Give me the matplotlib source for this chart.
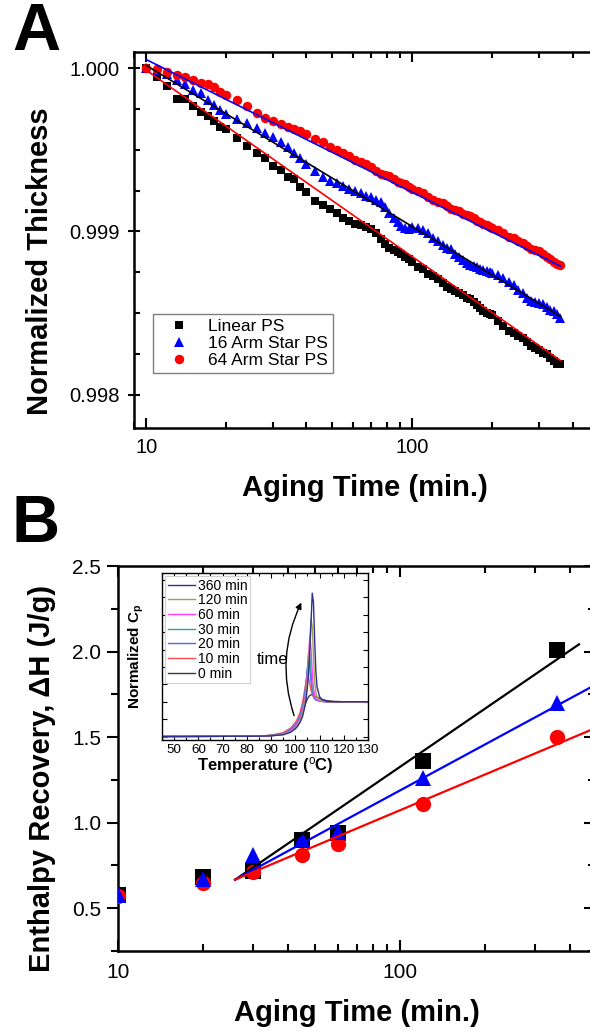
import numpy as np
import matplotlib
matplotlib.use("Agg")
import matplotlib.pyplot as plt
from matplotlib.ticker import LogLocator, NullFormatter, FuncFormatter, MultipleLocator, FixedLocator

plt.rcParams['font.family'] = ['Liberation Sans', 'DejaVu Sans']
plt.rcParams['mathtext.fontset'] = 'custom'
plt.rcParams['mathtext.rm'] = 'Liberation Sans'
plt.rcParams['mathtext.bf'] = 'Liberation Sans:bold'
plt.rcParams['mathtext.it'] = 'Liberation Sans:italic'

# ---------------- Panel A data ----------------
aging_time_a = [10, 11, 12, 13, 14, 15, 16, 17, 18, 19, 20, 22, 24, 26, 28, 30, 32, 34, 36, 38,
                40, 43, 46, 49, 52, 55, 58, 61, 64, 67, 70, 73, 76, 79, 82, 85, 88, 91, 94, 97,
                100, 105, 110, 115, 120, 125, 130, 135, 140, 145, 150, 155, 160, 165, 170, 175,
                180, 185, 190, 195, 200, 210, 220, 230, 240, 250, 260, 270, 280, 290, 300, 310,
                320, 330, 340, 350, 360]
thick_linear = [1.000000, 0.999945, 0.999892, 0.999812, 0.999810, 0.999766, 0.999729, 0.999709,
                0.999676, 0.999639, 0.999629, 0.999571, 0.999523, 0.999478, 0.999452, 0.999403,
                0.999376, 0.999336, 0.999322, 0.999275, 0.999240, 0.999189, 0.999161, 0.999139,
                0.999115, 0.999082, 0.999066, 0.999046, 0.999037, 0.999029, 0.999018, 0.998992,
                0.998957, 0.998923, 0.998899, 0.998887, 0.998874, 0.998863, 0.998842, 0.998831,
                0.998811, 0.998782, 0.998769, 0.998742, 0.998726, 0.998710, 0.998686, 0.998662,
                0.998649, 0.998637, 0.998625, 0.998614, 0.998593, 0.998588, 0.998568, 0.998549,
                0.998530, 0.998511, 0.998503, 0.998495, 0.998488, 0.998453, 0.998420, 0.998393,
                0.998377, 0.998362, 0.998347, 0.998324, 0.998301, 0.998288, 0.998277, 0.998255,
                0.998250, 0.998229, 0.998210, 0.998190, 0.998191]
thick_16arm = [1.000000, 0.999990, 0.999963, 0.999924, 0.999902, 0.999867, 0.999845, 0.999804,
               0.999774, 0.999746, 0.999719, 0.999688, 0.999661, 0.999632, 0.999605, 0.999581,
               0.999548, 0.999517, 0.999482, 0.999449, 0.999412, 0.999371, 0.999332, 0.999310,
               0.999295, 0.999281, 0.999263, 0.999247, 0.999233, 0.999219, 0.999208, 0.999195,
               0.999183, 0.999151, 0.999115, 0.999085, 0.999060, 0.999035, 0.999021, 0.999018,
               0.999025, 0.999019, 0.999009, 0.998990, 0.998962, 0.998944, 0.998918, 0.998897,
               0.998891, 0.998861, 0.998846, 0.998827, 0.998809, 0.998796, 0.998788, 0.998780,
               0.998773, 0.998767, 0.998760, 0.998754, 0.998748, 0.998732, 0.998717, 0.998693,
               0.998670, 0.998643, 0.998621, 0.998595, 0.998574, 0.998569, 0.998560, 0.998555,
               0.998537, 0.998519, 0.998516, 0.998498, 0.998471]
thick_64arm = [1.000000, 0.999993, 0.999978, 0.999959, 0.999943, 0.999929, 0.999911, 0.999900,
               0.999885, 0.999856, 0.999833, 0.999804, 0.999770, 0.999727, 0.999696, 0.999677,
               0.999659, 0.999642, 0.999627, 0.999613, 0.999595, 0.999565, 0.999546, 0.999514,
               0.999498, 0.999483, 0.999459, 0.999436, 0.999424, 0.999413, 0.999393, 0.999373,
               0.999354, 0.999345, 0.999337, 0.999319, 0.999302, 0.999295, 0.999289, 0.999273,
               0.999257, 0.999245, 0.999233, 0.999213, 0.999193, 0.999183, 0.999174, 0.999156,
               0.999138, 0.999131, 0.999124, 0.999107, 0.999101, 0.999095, 0.999080, 0.999065,
               0.999060, 0.999045, 0.999041, 0.999027, 0.999023, 0.999010, 0.998989, 0.998968,
               0.998958, 0.998939, 0.998930, 0.998912, 0.998894, 0.998887, 0.998880, 0.998863,
               0.998847, 0.998831, 0.998815, 0.998800, 0.998795]
series_a_labels = ['Linear PS', '16 Arm Star PS', '64 Arm Star PS']
# linear fits y = a + b*log10(t), drawn over 10-360 min
fit_a_intercept = [1.001128, 1.001002, 1.000864]
fit_a_slope = [-0.001141, -0.000986, -0.000812]
fit_a_range = [10, 360]

# ---------------- Panel B data ----------------
aging_time_b = [10, 20, 30, 45, 60, 120, 360]
dh_linear = [0.58, 0.68, 0.72, 0.90, 0.94, 1.36, 2.01]
dh_16arm = [0.58, 0.67, 0.81, 0.905, 0.945, 1.26, 1.70]
dh_64arm = [0.57, 0.65, 0.71, 0.81, 0.875, 1.11, 1.50]
fit_b_intercept = [-0.931, -0.595, -0.315]
fit_b_slope = [1.129, 0.892, 0.694]
fit_b_start = [26, 26, 26]
fit_b_end = [430, 500, 500]

# ---------------- Inset (DSC) data ----------------
inset_temp = [45, 85, 90, 95, 98, 100, 101, 102, 103, 103.5, 104, 104.5, 105, 105.5, 106, 106.5,
              107, 107.5, 108, 108.5, 109, 110, 111, 113, 116, 120, 130]
cp_0min = [0, 0.01, 0.03, 0.09, 0.18, 0.30, 0.40, 0.53, 0.70, 0.80, 0.90, 1.00, 1.08, 1.14, 1.18,
           1.20, 1.20, 1.19, 1.17, 1.15, 1.13, 1.10, 1.07, 1.03, 1.01, 1.00, 1.00]
cp_10min = [0, 0.01, 0.04, 0.11, 0.24, 0.40, 0.52, 0.70, 0.98, 1.18, 1.40, 1.62, 1.76, 1.68, 1.50,
            1.33, 1.21, 1.13, 1.08, 1.05, 1.04, 1.02, 1.01, 1.00, 1.00, 1.00, 1.00]
cp_20min = [0, 0.01, 0.03, 0.09, 0.20, 0.34, 0.45, 0.61, 0.86, 1.05, 1.28, 1.60, 1.98, 2.19, 1.95,
            1.58, 1.30, 1.17, 1.10, 1.06, 1.04, 1.02, 1.01, 1.00, 1.00, 1.00, 1.00]
cp_30min = [0, 0.01, 0.03, 0.08, 0.18, 0.31, 0.42, 0.57, 0.80, 0.98, 1.20, 1.52, 1.95, 2.45, 2.35,
            1.85, 1.42, 1.22, 1.12, 1.07, 1.04, 1.02, 1.01, 1.00, 1.00, 1.00, 1.00]
cp_60min = [0, 0.01, 0.02, 0.07, 0.16, 0.28, 0.38, 0.52, 0.73, 0.90, 1.10, 1.40, 1.80, 2.35, 2.88,
            2.50, 1.85, 1.38, 1.18, 1.09, 1.05, 1.03, 1.01, 1.00, 1.00, 1.00, 1.00]
cp_120min = [0, 0.01, 0.02, 0.06, 0.14, 0.25, 0.34, 0.47, 0.66, 0.82, 1.00, 1.26, 1.62, 2.10, 2.80,
             3.40, 3.15, 2.30, 1.60, 1.27, 1.13, 1.05, 1.02, 1.00, 1.00, 1.00, 1.00]
cp_360min = [0, 0.01, 0.02, 0.05, 0.12, 0.22, 0.30, 0.41, 0.58, 0.72, 0.88, 1.10, 1.42, 1.85, 2.50,
             3.30, 4.12, 3.85, 2.75, 1.85, 1.42, 1.15, 1.06, 1.01, 1.00, 1.00, 1.00]
inset_labels = ['0 min', '10 min', '20 min', '30 min', '60 min', '120 min', '360 min']
inset_colors = ['#3a3a3a', '#ff4d4d', '#5c5cff', '#3a9e9e', '#ff3cff', '#a3a345', '#2e2e96']

# ---------------- Figure ----------------
W, H = 590, 1031
fig = plt.figure(figsize=(W / 100, H / 100), dpi=100)


def px_axes(l, r, t, b):
    return [l / W, 1 - b / H, (r - l) / W, (b - t) / H]


tick_fmt = FuncFormatter(lambda v, _: f"{v:g}")

# ---- Panel A ----
axA = fig.add_axes(px_axes(134, 596, 52, 428))
t_a = np.array(aging_time_a)
axA.plot(t_a, thick_linear, 's', color='black', ms=5.6, mew=0, label=series_a_labels[0], zorder=3)
axA.plot(t_a, thick_16arm, '^', color='blue', ms=7.5, mew=0, label=series_a_labels[1], zorder=3)
axA.plot(t_a, thick_64arm, 'o', color='red', ms=6.8, mew=0, label=series_a_labels[2], zorder=3)
tf = np.array(fit_a_range, dtype=float)
for a, b, c in zip(fit_a_intercept, fit_a_slope, ['red', 'black', 'blue']):
    axA.plot(tf, a + b * np.log10(tf), color=c, lw=1.2, zorder=4)
axA.set_xscale('log')
axA.set_xlim(9, 490)
axA.set_ylim(0.997798, 1.000098)
axA.xaxis.set_major_locator(LogLocator(base=10))
axA.xaxis.set_minor_locator(LogLocator(base=10, subs=np.arange(2, 10)))
axA.xaxis.set_major_formatter(tick_fmt)
axA.xaxis.set_minor_formatter(NullFormatter())
axA.yaxis.set_major_locator(FixedLocator([0.998, 0.999, 1.000]))
axA.yaxis.set_minor_locator(MultipleLocator(0.00025))
axA.yaxis.set_major_formatter(FuncFormatter(lambda v, _: f"{v:.3f}"))
axA.tick_params(axis='both', which='both', top=True, right=True, width=1.5, labelsize=14.5)
axA.tick_params(axis='x', which='major', direction='in', length=7, pad=7)
axA.tick_params(axis='x', which='minor', direction='in', length=4)
axA.tick_params(axis='y', which='major', direction='inout', length=9, pad=6)
axA.tick_params(axis='y', which='minor', direction='in', length=4)
for s in axA.spines.values():
    s.set_linewidth(1.8)
axA.set_xlabel('Aging Time (min.)', fontsize=21, fontweight='bold')
axA.set_ylabel('Normalized Thickness', fontsize=21, fontweight='bold')
axA.xaxis.label.set_va('center')
axA.yaxis.label.set_va('center')
axA.xaxis.set_label_coords(0.5, -0.160)
axA.yaxis.set_label_coords(-0.2035, 0.444)
legA = axA.legend(loc='lower left', bbox_to_anchor=(0.041, 0.146), borderaxespad=0,
                  fontsize=12.5, handlelength=2.4, handletextpad=0.45, labelspacing=0.1,
                  borderpad=0.3, fancybox=False, framealpha=1, edgecolor='#808080')
legA.get_frame().set_linewidth(1.0)

# ---- Panel B ----
axB = fig.add_axes(px_axes(118, 595, 566, 951))
t_b = np.array(aging_time_b)
axB.plot(t_b, dh_linear, 's', color='black', ms=11, mew=0, zorder=3)
axB.plot(t_b, dh_64arm, 'o', color='red', ms=11, mew=0, zorder=4)
axB.plot(t_b, dh_16arm, '^', color='blue', ms=12, mew=0, zorder=5)
for a, b, t0, t1, c in zip(fit_b_intercept, fit_b_slope, fit_b_start, fit_b_end,
                           ['black', 'blue', 'red']):
    tt = np.array([t0, t1], dtype=float)
    axB.plot(tt, a + b * np.log10(tt), color=c, lw=1.6, zorder=6)
axB.set_xscale('log')
axB.set_xlim(10, 490)
axB.set_ylim(0.25, 2.5)
axB.xaxis.set_major_locator(LogLocator(base=10))
axB.xaxis.set_minor_locator(LogLocator(base=10, subs=np.arange(2, 10)))
axB.xaxis.set_major_formatter(tick_fmt)
axB.xaxis.set_minor_formatter(NullFormatter())
axB.yaxis.set_major_locator(MultipleLocator(0.5))
axB.yaxis.set_minor_locator(MultipleLocator(0.25))
axB.yaxis.set_major_formatter(FuncFormatter(lambda v, _: f"{v:.1f}"))
axB.tick_params(axis='both', which='both', width=1.5, labelsize=15)
axB.tick_params(axis='x', which='both', direction='in', top=True)
axB.tick_params(axis='x', which='major', length=8, pad=9)
axB.tick_params(axis='x', which='minor', length=5)
axB.tick_params(axis='y', which='both', direction='out', right=False)
axB.tick_params(axis='y', which='major', length=8, pad=4)
axB.tick_params(axis='y', which='minor', length=5)
secB = axB.secondary_yaxis('right')
secB.yaxis.set_major_locator(MultipleLocator(0.5))
secB.yaxis.set_minor_locator(MultipleLocator(0.25))
secB.tick_params(axis='y', which='both', direction='in', labelright=False, width=1.5)
secB.tick_params(axis='y', which='major', length=8)
secB.tick_params(axis='y', which='minor', length=5)
for s in list(axB.spines.values()) + list(secB.spines.values()):
    s.set_linewidth(1.8)
axB.set_xlabel('Aging Time (min.)', fontsize=21, fontweight='bold')
axB.set_ylabel('Enthalpy Recovery, ΔH (J/g)', fontsize=21, fontweight='bold')
axB.xaxis.label.set_va('center')
axB.yaxis.label.set_va('center')
axB.xaxis.set_label_coords(0.501, -0.161)
axB.yaxis.set_label_coords(-0.159, 0.447)

# ---- Inset ----
axI = fig.add_axes(px_axes(162, 368, 573, 740))
curves = [cp_0min, cp_10min, cp_20min, cp_30min, cp_60min, cp_120min, cp_360min]
handles = []
for cv, lab, col in zip(curves, inset_labels, inset_colors):
    h, = axI.plot(inset_temp, cv, color=col, lw=1.0, label=lab)
    handles.append(h)
axI.set_xlim(45, 130)
axI.set_ylim(-0.1, 4.7)
axI.xaxis.set_major_locator(MultipleLocator(10))
axI.xaxis.set_minor_locator(MultipleLocator(5))
axI.yaxis.set_major_locator(MultipleLocator(0.5))
axI.yaxis.set_major_formatter(NullFormatter())
axI.tick_params(axis='both', which='both', direction='in', top=True, right=True, width=0.8,
                labelsize=9.6, pad=3)
axI.tick_params(axis='both', which='major', length=3.5)
axI.tick_params(axis='both', which='minor', length=2)
for s in axI.spines.values():
    s.set_linewidth(1.0)
axI.set_xlabel(r'Temperature ($^{\mathrm{o}}$C)', fontsize=12, fontweight='bold')
axI.set_ylabel(r'Normalized C$_{\mathbf{p}}$', fontsize=11, fontweight='bold')
axI.xaxis.label.set_va('center')
axI.yaxis.label.set_va('center')
axI.xaxis.set_label_coords(0.5, -0.15)
axI.yaxis.set_label_coords(-0.126, 0.5)
legI = axI.legend(handles=handles[::-1], loc='upper left', fontsize=10, handlelength=2.0,
                  handletextpad=0.2, labelspacing=0.05, borderpad=0.15, borderaxespad=0.25,
                  fancybox=False, framealpha=1, edgecolor='#d0d0d0')
legI.get_frame().set_linewidth(0.8)
axI.annotate('', xy=(102.5, 3.85), xytext=(99.5, 0.6),
             arrowprops=dict(arrowstyle='-|>', color='black', lw=1.0, mutation_scale=9,
                             connectionstyle='arc3,rad=-0.2', shrinkA=0, shrinkB=0))
axI.text(90.5, 2.2, 'time', fontsize=12, ha='center', va='center')

# ---- Panel letters ----
fig.text(36 / W, 1 - 33 / H, 'A', fontsize=48, fontweight='bold', ha='center', va='center')
fig.text(36 / W, 1 - 525 / H, 'B', fontsize=48, fontweight='bold', ha='center', va='center')

fig.savefig('out.png', dpi=100)
